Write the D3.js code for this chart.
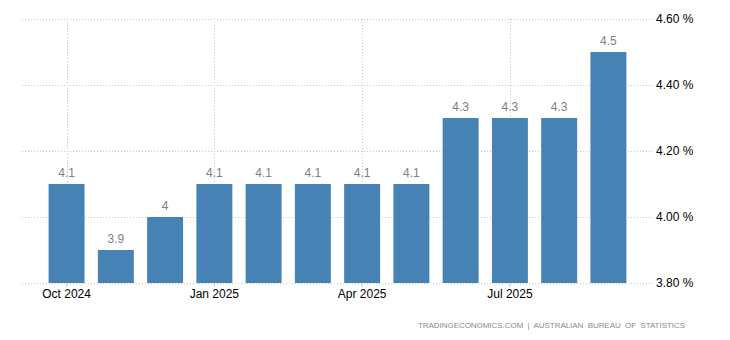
<!DOCTYPE html>
<html><head><meta charset="utf-8">
<script src="https://cdn.jsdelivr.net/npm/d3@7"></script>
<style>body{margin:0;background:#fff}svg{display:block}</style>
</head><body>
<script>
const months = ["2024-10","2024-11","2024-12","2025-01","2025-02","2025-03","2025-04","2025-05","2025-06","2025-07","2025-08","2025-09"];
const values = [4.1,3.9,4.0,4.1,4.1,4.1,4.1,4.1,4.3,4.3,4.3,4.5];
const xTickMonths = ["2024-10","2025-01","2025-04","2025-07"];
const xTickLabels = ["Oct 2024","Jan 2025","Apr 2025","Jul 2025"];
const yTicks = [3.8,4.0,4.2,4.4,4.6];
const sourceText = "TRADINGECONOMICS.COM  |  AUSTRALIAN  BUREAU  OF  STATISTICS";

const W = 730, H = 340;
const svg = d3.select("body").append("svg").attr("width", W).attr("height", H);
const font = "'Liberation Sans', Arial, sans-serif";

const x = d3.scaleBand().domain(months).range([22, 653]).paddingInner(0.27).paddingOuter(0.54);
const y = d3.scaleLinear().domain([3.8, 4.6]).range([283, 19]);

// horizontal grid
svg.append("g").selectAll("line").data(yTicks).join("line")
  .attr("x1", 22).attr("x2", 653)
  .attr("y1", d => Math.round(y(d)) + 0.5).attr("y2", d => Math.round(y(d)) + 0.5)
  .attr("stroke", "#c8c8c8").attr("stroke-dasharray", "1,2");

// vertical grid
svg.append("g").selectAll("line").data(xTickMonths).join("line")
  .attr("x1", d => Math.round(x(d) + x.bandwidth()/2) + 0.5)
  .attr("x2", d => Math.round(x(d) + x.bandwidth()/2) + 0.5)
  .attr("y1", 19).attr("y2", 283)
  .attr("stroke", "#c8c8c8").attr("stroke-dasharray", "1,2");

// bars
svg.append("g").selectAll("rect").data(values).join("rect")
  .attr("x", (d,i) => x(months[i]))
  .attr("width", x.bandwidth())
  .attr("y", d => y(d))
  .attr("height", d => y(3.8) - y(d))
  .attr("fill", "#4682b4");

// value labels
svg.append("g").selectAll("text").data(values).join("text")
  .attr("x", (d,i) => x(months[i]) + x.bandwidth()/2)
  .attr("y", d => y(d) - 7)
  .attr("text-anchor", "middle")
  .attr("font-family", font).attr("font-size", 12)
  .attr("fill", "#808080")
  .text(d => String(d));

// x axis
const xAxis = d3.axisBottom(x).tickValues(xTickMonths)
  .tickFormat((d) => xTickLabels[xTickMonths.indexOf(d)])
  .tickSize(4).tickSizeOuter(0);
const gx = svg.append("g").attr("transform", "translate(0,283)").call(xAxis);
gx.select(".domain").remove();
gx.selectAll(".tick line").attr("stroke", "#c8c8c8");
gx.selectAll(".tick text").attr("font-family", font).attr("font-size", 12).attr("fill", "#000").attr("dy", "0.9em").attr("y", 4);

// y axis
const yAxis = d3.axisRight(y).tickValues(yTicks).tickFormat(d => d3.format(".2f")(d) + " %").tickSize(0);
const gy = svg.append("g").attr("transform", "translate(656,0)").call(yAxis);
gy.select(".domain").remove();
gy.selectAll(".tick text").attr("font-family", font).attr("font-size", 12).attr("fill", "#000").attr("x", 0);

// source
svg.append("text")
  .attr("x", 418).attr("y", 328)
  .attr("font-family", font).attr("font-size", 8)
  .attr("textLength", 267).attr("lengthAdjust", "spacing")
  .attr("fill", "#8a8a8a")
  .attr("xml:space", "preserve")
  .style("white-space", "pre")
  .text(sourceText);
</script>
</body></html>
